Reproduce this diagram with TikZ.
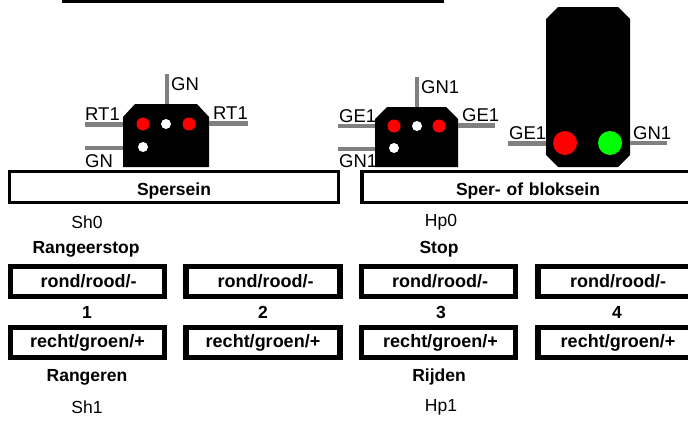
\documentclass[tikz,border=0pt]{standalone}
\usepackage{fontspec}
\setmainfont{Liberation Sans}
\usetikzlibrary{calc}
\tikzset{
  x=1pt,y=-1pt,
  body/.style={inner sep=0pt,outer sep=0pt},
  wire/.style={draw=black!50,line width=4.5pt},
  lamp/.style={circle,inner sep=0pt,outer sep=0pt,minimum size=#1},
  redlamp/.style={lamp=13pt,fill=red},
  whitelamp/.style={lamp=10pt,fill=white},
  biglabel/.style={font=\fontsize{18.5}{20}\selectfont,inner sep=0pt},
  plain/.style={font=\fontsize{17.5}{20}\selectfont,inner sep=0pt},
  boldtext/.style={font=\fontsize{17.5}{20}\bfseries\selectfont,inner sep=0pt},
  header/.style={draw=black,line width=3.2pt,inner sep=0pt,minimum height=31pt,font=\fontsize{17.5}{20}\bfseries\selectfont},
  swbox/.style={draw=black,line width=5.5pt,inner sep=0pt,minimum height=30pt,minimum width=154pt,font=\fontsize{18}{20}\bfseries\selectfont},
}
\begin{document}
\begin{tikzpicture}
\useasboundingbox (0,0) rectangle (688,423);
\fill[black] (62,0) rectangle (444,3);
% signal 1
\node[body,minimum width=86pt,minimum height=63pt] (s1) at (166,135.5) {};
\fill[black] (s1.south west) -- ($(s1.north west)+(0,13)$) -- ($(s1.north west)+(12,0)$) -- ($(s1.north east)+(-12,0)$) -- ($(s1.north east)+(0,13)$) -- (s1.south east) -- cycle;
\node[redlamp] (s1a) at (143,124) {};
\node[whitelamp] (s1b) at (166,124) {};
\node[redlamp] (s1c) at (189,124) {};
\node[whitelamp] (s1d) at (143,147) {};
\coordinate (s1t) at (167,74);
\coordinate (s1l) at (85,124.5);
\coordinate (s1r) at (248,123.5);
\coordinate (s1g) at (85,148);
\draw[wire] (s1t) -- (s1t |- s1.north);
\draw[wire] (s1l) -- (s1.west |- s1l);
\draw[wire] (s1r) -- (s1.east |- s1r);
\draw[wire] (s1g) -- (s1.west |- s1g);
\node[biglabel,anchor=west] (l1) at (171,84) {GN};
\node[biglabel,anchor=west] (l2) at (85,114) {RT1};
\node[biglabel,anchor=west] (l3) at (213,113) {RT1};
\node[biglabel,anchor=west] (l4) at (85,161) {GN};
% signal 2
\node[body,minimum width=83pt,minimum height=60pt] (s2) at (416.5,137) {};
\fill[black] (s2.south west) -- ($(s2.north west)+(0,12)$) -- ($(s2.north west)+(12,0)$) -- ($(s2.north east)+(-12,0)$) -- ($(s2.north east)+(0,12)$) -- (s2.south east) -- cycle;
\node[redlamp] (s2a) at (394,126) {};
\node[whitelamp] (s2b) at (417,126) {};
\node[redlamp] (s2c) at (439,126) {};
\node[whitelamp] (s2d) at (394,148) {};
\coordinate (s2t) at (417,77);
\coordinate (s2l) at (338,126);
\coordinate (s2r) at (495,125.5);
\coordinate (s2g) at (338,149);
\draw[wire] (s2t) -- (s2t |- s2.north);
\draw[wire] (s2l) -- (s2.west |- s2l);
\draw[wire] (s2r) -- (s2.east |- s2r);
\draw[wire] (s2g) -- (s2.west |- s2g);
\node[biglabel,anchor=west] (l5) at (421,87) {GN1};
\node[biglabel,anchor=west] (l6) at (339,116) {GE1};
\node[biglabel,anchor=west] (l7) at (462,115) {GE1};
\node[biglabel,anchor=west] (l8) at (339,161) {GN1};
% signal 3
\node[body,minimum width=84pt,minimum height=160pt] (s3) at (588,87) {};
\fill[black] ($(s3.south west)+(12,0)$) -- ($(s3.south west)+(0,-12)$) -- ($(s3.north west)+(0,12)$) -- ($(s3.north west)+(12,0)$) -- ($(s3.north east)+(-12,0)$) -- ($(s3.north east)+(0,12)$) -- ($(s3.south east)+(0,-12)$) -- ($(s3.south east)+(-12,0)$) -- cycle;
\node[lamp=24pt,fill=red] (s3a) at (565,143) {};
\node[lamp=24pt,fill=green] (s3b) at (610,143) {};
\coordinate (s3l) at (508,143.5);
\coordinate (s3r) at (667,143);
\draw[wire] (s3l) -- (s3.west |- s3l);
\draw[wire] (s3r) -- (s3.east |- s3r);
\node[biglabel,anchor=west] (l9) at (509,133) {GE1};
\node[biglabel,anchor=west] (l10) at (633,133) {GN1};
% headers
\node[header,minimum width=329pt] (h1) at (174,187) {\raisebox{-8.5pt}[0pt][0pt]{Spersein}};
\node[header,minimum width=340pt,text width=332pt,align=center] (h2) at (532,187) {\hspace*{-8pt}\raisebox{-8.5pt}[0pt][0pt]{Sper- of bloksein}};
% texts
\node[plain] (t1) at (87,222) {Sh0};
\node[boldtext] (t2) at (86,249) {Rangeerstop};
\node[plain] (t3) at (441,222) {Hp0};
\node[boldtext] (t4) at (439,249) {Stop};
\node[swbox] (a1) at (87.5,281.5) {\hspace*{2pt}rond/rood/-};
\node[swbox] (a2) at (263,281.5) {\hspace*{5pt}rond/rood/-};
\node[swbox] (a3) at (438.5,281.5) {\hspace*{3pt}rond/rood/-};
\node[swbox,minimum width=160pt] (a4) at (618,281.5) {rond/rood/-};
\node[boldtext] (n1) at (87,312) {1};
\node[boldtext] (n2) at (263,312) {2};
\node[boldtext] (n3) at (441,312) {3};
\node[boldtext] (n4) at (617,312) {4};
\node[swbox] (b1) at (87.5,342.5) {\raisebox{1pt}{recht/groen/+}};
\node[swbox] (b2) at (263,342.5) {\raisebox{1pt}{recht/groen/+}};
\node[swbox] (b3) at (438.5,342.5) {\hspace*{4pt}\raisebox{1pt}{recht/groen/+}};
\node[swbox,minimum width=160pt] (b4) at (618,342.5) {\raisebox{1pt}{recht/groen/+}};
\node[boldtext] (t5) at (87,377) {Rangeren};
\node[plain] (t6) at (87,407) {Sh1};
\node[boldtext] (t7) at (439,377) {Rijden};
\node[plain] (t8) at (441,407) {Hp1};
\end{tikzpicture}
\end{document}
